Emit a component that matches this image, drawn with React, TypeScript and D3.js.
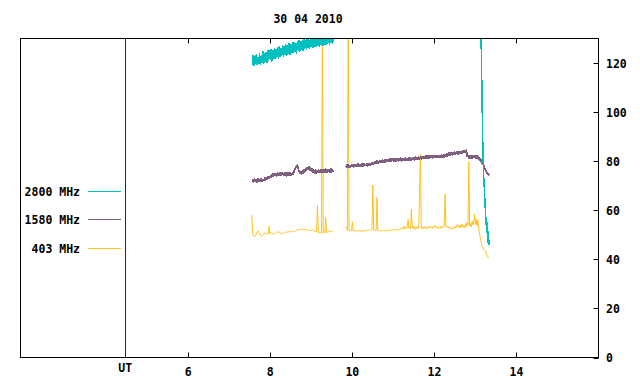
import React from "react";
import * as d3 from "d3";

const title = "30 04 2010";
const xTicks = [6, 8, 10, 12, 14];
const yTicks = [0, 20, 40, 60, 80, 100, 120];
const utMark = 4.465;
const legendLabels = ["2800 MHz", "1580 MHz", "403 MHz"];
const colors = ["#00c0c0", "#806080", "#ffc020"];

// 2800 MHz, first run: start 7.56 h, step 0.02 h
const c2800aStart = 7.56;
const c2800aStep = 0.02;
const c2800a = [
  119.2, 123.0, 118.9, 122.6, 120.0, 123.4, 119.3, 122.1, 119.8, 123.6,
  119.5, 122.9, 120.2, 124.6, 119.9, 123.8, 120.7, 124.3, 120.4, 125.1,
  121.0, 124.9, 121.6, 125.5, 120.8, 125.2, 122.1, 126.0, 121.9, 125.6,
  122.4, 126.3, 121.9, 126.7, 122.8, 125.9, 123.1, 127.2, 122.6, 126.8,
  123.4, 127.4, 123.0, 126.9, 124.1, 128.0, 123.6, 127.6, 124.3, 128.2,
  124.2, 128.4, 124.8, 127.9, 123.9, 128.7, 125.3, 129.0, 124.9, 128.5,
  125.6, 129.2, 125.1, 129.6, 126.0, 128.9, 125.7, 129.8, 126.3, 129.4,
  126.1, 130.1, 126.7, 129.7, 126.4, 130.4, 127.0, 130.0, 126.6, 130.6,
  127.2, 130.8, 126.9, 130.3, 127.5, 131.0, 127.1, 130.7, 127.8, 131.2,
  127.6, 131.0, 128.0, 131.4, 127.7, 130.9, 128.3, 131.5, 128.1, 131.3,
];
// 2800 MHz, final drop: start 13.12 h, step 0.01 h
const c2800bStart = 13.12;
const c2800bStep = 0.01;
const c2800b = [
  133, 131, 128, 118, 108, 96, 87, 80, 74, 71, 68, 64, 61, 58, 55, 53, 55, 50, 52, 47, 50, 46,
];

// 1580 MHz, step 0.02 h
const c1580aStart = 7.56;
const c1580aStep = 0.02;
const c1580a = [
  71.5, 72.4, 71.6, 72.6, 71.8, 72.3, 71.5, 72.7, 71.7, 72.5,
  71.8, 72.8, 71.9, 72.6, 72.1, 73.0, 72.4, 73.3, 72.7, 73.6,
  72.9, 73.8, 73.4, 74.3, 73.6, 74.7, 73.9, 75.0, 74.1, 74.9,
  74.0, 75.2, 74.3, 75.1, 74.2, 75.3, 74.4, 75.4, 74.2, 75.2,
  74.3, 75.3, 74.1, 75.2, 74.4, 75.4, 74.2, 75.1, 74.5, 75.4,
  74.8, 76.0, 76.5, 77.6, 77.5, 78.4, 77.0, 76.2, 75.0, 75.8,
  74.8, 75.9, 75.0, 76.3, 75.6, 76.9, 76.2, 77.5, 76.6, 77.7,
  76.5, 77.3, 76.0, 76.8, 75.4, 76.4, 75.2, 76.3, 75.1, 76.2,
  75.3, 76.4, 75.4, 76.5, 75.5, 76.6, 75.4, 76.5, 75.6, 76.7,
  75.6, 76.7, 75.5, 76.6, 75.7, 76.8, 75.6, 76.7, 75.8, 76.6,
];
const c1580bStart = 9.84;
const c1580bStep = 0.02;
const c1580b = [
  77.5, 78.4, 77.6, 78.5, 77.7, 78.3, 77.6, 78.6, 77.8, 78.5,
  77.7, 78.7, 77.8, 78.6, 77.9, 78.8, 77.8, 78.7, 78.0, 78.8,
  78.0, 78.9, 78.1, 79.0, 78.2, 78.9, 78.1, 79.1, 78.3, 79.0,
  78.3, 79.2, 78.6, 79.5, 78.9, 79.8, 79.1, 80.0, 79.2, 80.1,
  79.3, 80.2, 79.4, 80.3, 79.6, 80.5, 79.7, 80.4, 79.6, 80.6,
  79.8, 80.6, 79.9, 80.8, 80.0, 80.9, 80.1, 80.8, 80.0, 81.0,
  80.1, 80.9, 80.2, 81.1, 80.1, 81.0, 80.3, 81.2, 80.2, 81.0,
  80.3, 81.1, 80.2, 81.2, 80.4, 81.0, 80.3, 81.3, 80.4, 81.2,
  80.4, 81.3, 80.6, 81.4, 80.5, 81.6, 80.8, 81.5, 80.7, 81.7,
  80.9, 81.7, 81.0, 81.9, 81.1, 81.8, 81.2, 82.0, 81.1, 82.1,
  81.2, 82.0, 81.3, 82.2, 81.4, 82.1, 81.3, 82.3, 81.5, 82.2,
  81.4, 82.3, 81.5, 82.2, 81.6, 82.4, 81.5, 82.5, 81.7, 82.4,
  81.6, 82.6, 81.9, 82.9, 82.2, 83.3, 82.5, 83.4, 82.6, 83.5,
  82.6, 83.5, 82.8, 83.7, 82.9, 83.8, 82.9, 83.9, 83.0, 83.8,
  83.1, 84.0, 83.3, 84.3, 83.5, 84.4, 83.6, 84.5, 82.0, 82.4,
  81.3, 82.3, 81.4, 82.2, 81.3, 82.4, 81.5, 82.3, 81.4, 82.2,
  81.2, 82.0, 81.0, 81.4, 80.2, 80.6, 79.3, 79.6, 78.2, 77.6,
  76.4, 76.0, 75.2, 74.9, 74.2, 74.8,
];

// 403 MHz, step 0.02 h
const c403aStart = 7.55;
const c403aStep = 0.02;
const c403a = [
  58.0, 50.4, 49.6, 49.3, 49.5, 49.9, 50.8, 51.5, 51.4, 50.9,
  50.2, 49.6, 49.5, 49.7, 50.1, 50.6, 50.8, 50.4, 50.2, 50.5,
  50.3, 53.5, 50.4, 50.7, 51.0, 50.6, 50.4, 50.3, 50.6, 50.9,
  51.2, 51.0, 51.3, 51.1, 50.9, 50.6, 50.7, 50.9, 50.6, 50.5,
  50.8, 51.0, 51.2, 51.0, 51.2, 51.3, 51.1, 51.3, 51.4, 51.1,
  51.4, 51.6, 51.3, 51.6, 51.8, 51.9, 52.1, 52.3, 51.9, 52.0,
  52.3, 52.0, 52.2, 52.4, 52.1, 52.3, 52.0, 51.9, 52.2, 52.0,
  51.8, 52.0, 51.9, 51.7, 51.9, 51.8, 51.5, 51.6, 51.3, 51.2,
  62.0, 51.0, 50.8, 50.8, 50.7, 50.8, 140, 50.8, 50.9, 50.9,
  57.0, 51.0, 51.1, 51.2, 51.2, 51.4, 51.3, 51.5, 51.4, 51.6,
];
const c403bStart = 9.84;
const c403bStep = 0.02;
const c403b = [
  53.2, 53.0, 51.8, 140, 51.6, 51.5, 51.7, 51.6, 55.3, 51.6,
  51.5, 51.6, 51.5, 51.7, 51.6, 51.5, 51.6, 51.7, 51.5, 51.6,
  51.7, 51.6, 51.5, 51.6, 51.8, 51.6, 51.7, 51.9, 52.2, 52.0,
  51.8, 51.9, 52.3, 70.3, 52.0, 51.8, 51.9, 51.8, 65.2, 51.9,
  51.7, 51.6, 51.7, 51.6, 51.7, 51.6, 51.8, 51.7, 51.6, 51.7,
  51.8, 51.6, 51.7, 51.8, 51.7, 51.9, 51.8, 52.0, 52.2, 51.9,
  52.0, 52.1, 51.9, 52.3, 52.1, 52.4, 52.0, 52.6, 53.0, 52.3,
  52.8, 53.5, 52.4, 53.1, 52.6, 53.3, 56.3, 52.7, 53.4, 52.5,
  60.5, 52.8, 53.6, 52.6, 53.3, 52.2, 53.1, 52.5, 53.4, 52.7,
  68.6, 82.8, 52.6, 53.2, 52.4, 53.0, 52.7, 53.5, 52.6, 53.1,
  52.5, 53.3, 52.8, 53.6, 52.9, 53.2, 52.6, 53.4, 53.9, 53.0,
  53.5, 52.8, 53.3, 52.7, 53.0, 52.6, 53.4, 52.9, 53.6, 53.1,
  53.8, 66.6, 53.5, 53.0, 53.6, 52.8, 53.2, 52.6, 53.0, 52.4,
  52.9, 52.3, 52.8, 53.4, 52.7, 53.6, 54.2, 53.1, 53.8, 52.9,
  54.0, 53.2, 54.4, 53.0, 53.7, 52.8, 54.6, 53.4, 55.1, 53.9,
  79.8, 53.6, 54.8, 53.2, 55.6, 54.1, 55.3, 58.4, 54.2, 56.5,
  53.8, 55.9, 52.4, 50.6, 48.5, 47.0, 45.3, 44.8, 44.2, 43.9,
  43.5, 42.6, 41.5, 41.2, 40.6,
];

const W = 640;
const H = 384;
const left = 20;
const right = 598.5;
const top = 38.5;
const bottom = 357.5;
const font = "'DejaVu Sans Mono', monospace";

function toPoints(start: number, step: number, vals: number[]): [number, number][] {
  return vals.map((v, i) => [start + i * step, v]);
}

export default function App() {
  const x = d3.scaleLinear().domain([1.9, 16]).range([left, right]);
  const y = d3.scaleLinear().domain([0, 130]).range([bottom, top]);
  const line = d3
    .line<[number, number]>()
    .x((d) => x(d[0]))
    .y((d) => y(d[1]));

  const series = [
    [toPoints(c2800aStart, c2800aStep, c2800a), toPoints(c2800bStart, c2800bStep, c2800b)],
    [toPoints(c1580aStart, c1580aStep, c1580a), toPoints(c1580bStart, c1580bStep, c1580b)],
    [toPoints(c403aStart, c403aStep, c403a), toPoints(c403bStart, c403bStep, c403b)],
  ];
  const widths = [1.5, 1.7, 1];
  const rendering = ["crispEdges", "crispEdges", "auto"];
  const drawOrder = [2, 1, 0];
  const legendY = [191.5, 219.5, 248.5];

  return (
    <svg
      width={W}
      height={H}
      style={{ position: "absolute", left: 0, top: 0, background: "#fff" }}
      fontFamily={font}
      fontWeight="bold"
      fontSize={11.5}
    >
      <defs>
        <clipPath id="plot">
          <rect x={left} y={top} width={right - left} height={bottom - top} />
        </clipPath>
      </defs>
      <rect x={0} y={0} width={W} height={H} fill="#fff" />
      <text x={308} y={23} textAnchor="middle" fill="#000">
        {title}
      </text>

      {/* UT marker */}
      <line
        x1={Math.round(x(utMark)) + 0.5}
        x2={Math.round(x(utMark)) + 0.5}
        y1={top}
        y2={bottom}
        stroke="#8b0000"
        strokeWidth={1}
      />
      <text x={x(utMark)} y={372} textAnchor="middle" fill="#000">
        UT
      </text>

      {/* series */}
      <g clipPath="url(#plot)">
        {drawOrder.map((si) =>
          series[si].map((seg, k) => (
            <path
              key={`${si}-${k}`}
              d={line(seg) || ""}
              fill="none"
              stroke={colors[si]}
              strokeWidth={widths[si]}
              strokeLinejoin="round"
              shapeRendering={rendering[si]}
            />
          ))
        )}
      </g>

      {/* legend */}
      {legendLabels.map((lab, i) => (
        <g key={lab}>
          <text x={80} y={legendY[i] + 4} textAnchor="end" fill="#000">
            {lab}
          </text>
          <line x1={88} x2={121} y1={legendY[i]} y2={legendY[i]} stroke={colors[i]} strokeWidth={1} />
        </g>
      ))}

      {/* frame */}
      <rect x={left + 0.5} y={top} width={right - left - 0.5} height={bottom - top} fill="none" stroke="#000" strokeWidth={1} />

      {/* x ticks */}
      {xTicks.map((t) => {
        const px = Math.round(x(t)) + 0.5;
        return (
          <g key={t}>
            <line x1={px} x2={px} y1={bottom} y2={bottom - 5} stroke="#000" />
            <line x1={px} x2={px} y1={top} y2={top + 5} stroke="#000" />
            <text x={x(t)} y={376} textAnchor="middle" fill="#000">
              {t}
            </text>
          </g>
        );
      })}

      {/* y2 ticks */}
      {yTicks.map((t) => {
        const py = Math.round(y(t)) + 0.5;
        return (
          <g key={t}>
            <line x1={right} x2={right - 5} y1={py} y2={py} stroke="#000" />
            <text x={606} y={y(t) + 4.5} textAnchor="start" fill="#000">
              {t}
            </text>
          </g>
        );
      })}
    </svg>
  );
}
